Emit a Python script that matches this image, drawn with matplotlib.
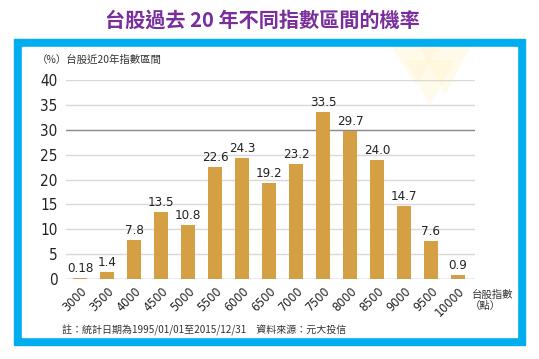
import matplotlib
matplotlib.use("Agg")
import matplotlib.pyplot as plt
from matplotlib.patches import Rectangle, Polygon

plt.rcParams["font.family"] = ["Noto Sans CJK TC", "DejaVu Sans"]

# 資料
index_levels = ["3000", "3500", "4000", "4500", "5000", "5500", "6000", "6500",
                "7000", "7500", "8000", "8500", "9000", "9500", "10000"]
probability = [0.18, 1.4, 7.8, 13.5, 10.8, 22.6, 24.3, 19.2,
               23.2, 33.5, 29.7, 24.0, 14.7, 7.6, 0.9]
value_labels = ["0.18", "1.4", "7.8", "13.5", "10.8", "22.6", "24.3", "19.2",
                "23.2", "33.5", "29.7", "24.0", "14.7", "7.6", "0.9"]
y_ticks = [0, 5, 10, 15, 20, 25, 30, 35, 40]

W, H = 539, 359
fig = plt.figure(figsize=(W / 100, H / 100), dpi=100)
num_font = dict(family="DejaVu Sans", stretch="condensed")


def px(x, y, w, h):
    # 像素座標 (左上為原點) 轉 figure 座標
    return (x / W, 1 - (y + h) / H, w / W, h / H)


# 藍色外框
fx, fy, fw, fh = px(14, 39, 511, 306)
fig.patches.append(Rectangle((fx, fy), fw, fh, transform=fig.transFigure,
                             color="#00AEEF", zorder=-3))
fx, fy, fw, fh = px(22, 47, 495, 290)
fig.patches.append(Rectangle((fx, fy), fw, fh, transform=fig.transFigure,
                             color="white", zorder=-2))

# 右上角淡黃色三角裝飾
tri = [[(392, 47), (440, 47), (416, 85)], [(420, 47), (470, 47), (445, 95)],
       [(405, 60), (455, 60), (430, 105)]]
for t in tri:
    pts = [(x / W, 1 - y / H) for x, y in t]
    fig.patches.append(Polygon(pts, closed=True, transform=fig.transFigure,
                               color="#FFF6D5", alpha=0.5, zorder=-1, lw=0))

# 標題
fig.text(262 / W, 1 - 20 / H, "台股過去 20 年不同指數區間的機率", ha="center",
         va="center", fontsize=14.5, fontweight="bold", color="#7A2E9C")

ax = fig.add_axes(px(66, 80, 409, 199))
ax.set_zorder(2)
ax.set_facecolor("none")
x = list(range(len(index_levels)))
ax.bar(x, probability, width=0.5, color="#D4A043", zorder=3)

for xi, v, lab in zip(x, probability, value_labels):
    ax.text(xi, v + 0.6, lab, ha="center", va="bottom", fontsize=9.5,
            color="#222222", **num_font)

ax.set_xlim(-0.52, 14.63)
ax.set_ylim(0, 40)
ax.set_yticks(y_ticks)
ax.set_yticklabels([str(t) for t in y_ticks], fontsize=11, color="#222222",
                   **num_font)
ax.set_xticks(x)
ax.set_xticklabels(index_levels, rotation=45, ha="right", rotation_mode="anchor",
                   fontsize=9, color="#222222", **num_font)
ax.tick_params(length=0, pad=4)
ax.tick_params(axis="y", pad=6)

for t in y_ticks[1:]:
    ax.axhline(t, color="#888888" if t == 30 else "#d8d8d8", lw=1, zorder=1)
ax.axhline(0, color="#999999", lw=1, zorder=4)
for s in ax.spines.values():
    s.set_visible(False)

fig.text(37 / W, 1 - 60 / H, "（%）台股近20年指數區間", fontsize=7.5,
         va="center", ha="left", color="#333333")
fig.text(472 / W, 1 - 295 / H, "台股指數", fontsize=7.5, va="center",
         ha="left", color="#333333")
fig.text(470 / W, 1 - 306 / H, "（點）", fontsize=7.5, va="center",
         ha="left", color="#333333")
fig.text(62 / W, 1 - 330 / H,
         "註：統計日期為1995/01/01至2015/12/31　資料來源：元大投信",
         fontsize=7.2, va="center", ha="left", color="#333333")

fig.savefig("out.png", dpi=100)
